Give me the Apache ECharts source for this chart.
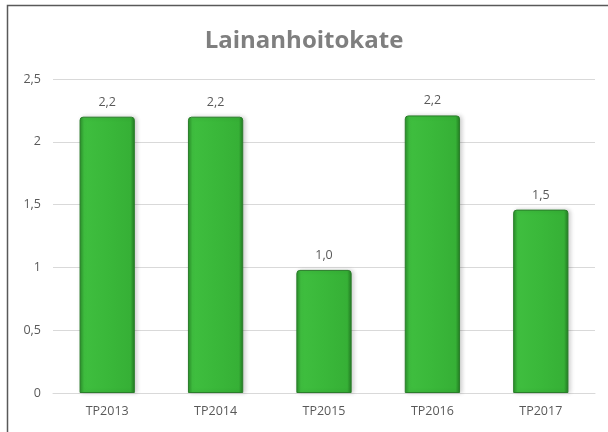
<!DOCTYPE html>
<html>
<head>
<meta charset="utf-8">
<script src="https://cdn.jsdelivr.net/npm/echarts@6/dist/echarts.min.js"></script>
<style>
  html, body { margin: 0; padding: 0; background: #ffffff; overflow: hidden; }
  #chart { width: 608px; height: 432px; }
</style>
</head>
<body>
<div id="chart"></div>
<script>
const categories = ['TP2013', 'TP2014', 'TP2015', 'TP2016', 'TP2017'];
const values = [2.2, 2.2, 0.98, 2.21, 1.46];
const yTicks = [0, 0.5, 1, 1.5, 2, 2.5];

const chart = echarts.init(document.getElementById('chart'));

const fmt = (v) => v.toFixed(1).replace('.', ',');

chart.setOption({
  backgroundColor: '#ffffff',
  animation: false,
  textStyle: { fontFamily: 'Open Sans, Liberation Sans, sans-serif' },
  title: {
    text: 'Lainanhoitokate',
    left: 'center',
    top: 24,
    textStyle: {
      color: '#7f7f7f',
      fontSize: 24,
      fontWeight: 'bold',
      fontFamily: 'Open Sans, Liberation Sans, sans-serif'
    }
  },
  graphic: [{
    type: 'polyline',
    shape: { points: [[7.5, 440], [7.5, 5.5], [620, 5.5]] },
    style: { fill: 'none', stroke: '#595959', lineWidth: 1.5 },
    silent: true,
    z: 100
  }],
  grid: { left: 53, right: 13, top: 79, bottom: 39 },
  xAxis: {
    type: 'category',
    data: categories,
    axisLine: { lineStyle: { color: '#d9d9d9', width: 1 } },
    axisTick: { show: false },
    axisLabel: { color: '#595959', fontSize: 12.5, margin: 12 }
  },
  yAxis: {
    type: 'value',
    min: yTicks[0],
    max: yTicks[yTicks.length - 1],
    interval: 0.5,
    axisLine: { show: false },
    axisTick: { show: false },
    axisLabel: {
      color: '#595959',
      fontSize: 12.5,
      margin: 12,
      formatter: (v) => String(v).replace('.', ',')
    },
    splitLine: { lineStyle: { color: '#d9d9d9', width: 1 } }
  },
  series: [{
    type: 'bar',
    data: values,
    barWidth: '51%',
    itemStyle: {
      color: new echarts.graphic.LinearGradient(0, 0, 1, 0, [
        { offset: 0, color: '#2a8f2a' },
        { offset: 0.08, color: '#3fbe3f' },
        { offset: 0.5, color: '#3ab83a' },
        { offset: 0.92, color: '#36b036' },
        { offset: 1, color: '#237a23' }
      ]),
      borderColor: '#2a7d2a',
      borderWidth: 1,
      borderRadius: [3, 3, 0, 0],
      shadowColor: 'rgba(0,0,0,0.18)',
      shadowBlur: 4,
      shadowOffsetX: 2,
      shadowOffsetY: 0
    },
    label: {
      show: true,
      position: 'top',
      distance: 8,
      color: '#595959',
      fontSize: 12.5,
      formatter: (p) => fmt(p.value)
    }
  }]
});
</script>
</body>
</html>
